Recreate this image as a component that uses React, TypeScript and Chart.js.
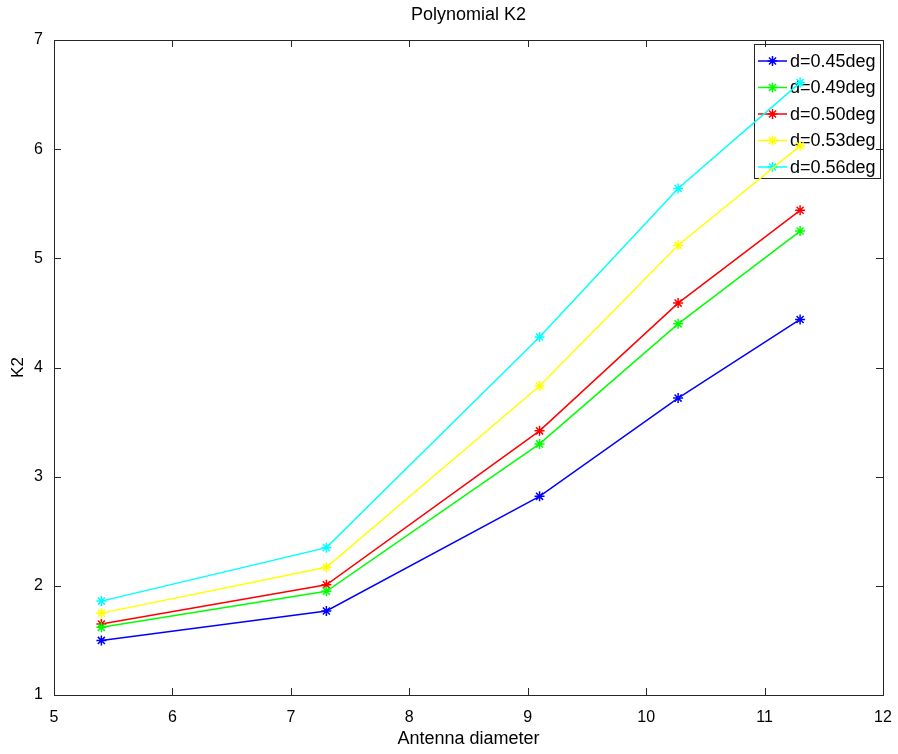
import React, { useEffect, useRef } from "react";
import { Chart, registerables } from "chart.js";

Chart.register(...registerables);

const chartTitle = "Polynomial K2";
const xValues = [5.4, 7.3, 9.1, 10.27, 11.3];
const seriesLabels = ["d=0.45deg", "d=0.49deg", "d=0.50deg", "d=0.53deg", "d=0.56deg"];
const seriesColors = ["#0000ff", "#00ff00", "#ff0000", "#ffff00", "#00ffff"];
const blueValues = [1.5, 1.77, 2.82, 3.72, 4.44];
const greenValues = [1.62, 1.95, 3.3, 4.4, 5.25];
const redValues = [1.65, 2.01, 3.42, 4.59, 5.44];
const yellowValues = [1.75, 2.17, 3.83, 5.12, 6.03];
const cyanValues = [1.86, 2.35, 4.28, 5.64, 6.61];
const seriesValues = [blueValues, greenValues, redValues, yellowValues, cyanValues];

const FONT = "'Liberation Sans', Arial, Helvetica, sans-serif";
const AXIS_COLOR = "#262626";

function drawStar(ctx: CanvasRenderingContext2D, x: number, y: number, r: number) {
  ctx.beginPath();
  ctx.moveTo(x - r, y);
  ctx.lineTo(x + r, y);
  ctx.moveTo(x, y - r);
  ctx.lineTo(x, y + r);
  const d = r * Math.SQRT1_2;
  ctx.moveTo(x - d, y - d);
  ctx.lineTo(x + d, y + d);
  ctx.moveTo(x - d, y + d);
  ctx.lineTo(x + d, y - d);
  ctx.stroke();
}

const boxPlugin = {
  id: "octaveBox",
  beforeDatasetsDraw(chart: any) {
    const { ctx, chartArea, scales } = chart;
    const { left, right, top, bottom } = chartArea;
    ctx.save();
    // title centred over the plot box
    ctx.fillStyle = "#000000";
    ctx.font = `18px ${FONT}`;
    ctx.textAlign = "center";
    ctx.textBaseline = "middle";
    ctx.fillText(chartTitle, (left + right) / 2, 15);

    ctx.strokeStyle = AXIS_COLOR;
    ctx.lineWidth = 1;
    ctx.strokeRect(Math.round(left) + 0.5, Math.round(top) + 0.5, Math.round(right - left), Math.round(bottom - top));
    const tl = 7;
    ctx.beginPath();
    scales.x.ticks.forEach((t: any) => {
      const px = Math.round(scales.x.getPixelForValue(t.value)) + 0.5;
      ctx.moveTo(px, bottom);
      ctx.lineTo(px, bottom - tl);
      ctx.moveTo(px, top);
      ctx.lineTo(px, top + tl);
    });
    scales.y.ticks.forEach((t: any) => {
      const py = Math.round(scales.y.getPixelForValue(t.value)) + 0.5;
      ctx.moveTo(left, py);
      ctx.lineTo(left + tl, py);
      ctx.moveTo(right, py);
      ctx.lineTo(right - tl, py);
    });
    ctx.stroke();

    // legend
    const lw = 126;
    const lh = 134;
    const lx = Math.round(right) - 3 - lw;
    const ly = Math.round(top) + 4;
    ctx.strokeRect(lx + 0.5, ly + 0.5, lw, lh);
    ctx.font = `18px ${FONT}`;
    ctx.textBaseline = "middle";
    ctx.textAlign = "left";
    seriesLabels.forEach((label, i) => {
      const cy = ly + 17 + i * 26.5;
      ctx.strokeStyle = seriesColors[i];
      ctx.lineWidth = 1.5;
      ctx.beginPath();
      ctx.moveTo(lx + 4, cy);
      ctx.lineTo(lx + 33, cy);
      ctx.stroke();
      drawStar(ctx, lx + 18.5, cy, 5);
      ctx.fillStyle = "#000000";
      ctx.fillText(label, lx + 36, cy + 1);
    });
    ctx.restore();
  },
};

export default function App() {
  const canvasRef = useRef<HTMLCanvasElement | null>(null);

  useEffect(() => {
    document.body.style.margin = "0";
    const canvas = canvasRef.current;
    if (!canvas) return;
    const datasets = seriesValues.map((vals, i) => ({
      label: seriesLabels[i],
      data: vals.map((v, j) => ({ x: xValues[j], y: v })),
      borderColor: seriesColors[i],
      backgroundColor: seriesColors[i],
      borderWidth: 1.5,
      pointStyle: "star" as const,
      pointRadius: 5,
      pointBorderWidth: 1.5,
      pointBorderColor: seriesColors[i],
      tension: 0,
      fill: false,
    }));
    const chart = new Chart(canvas, {
      type: "line",
      data: { datasets },
      plugins: [boxPlugin],
      options: {
        responsive: false,
        animation: false,
        layout: { padding: { top: 40, right: 15, bottom: 0, left: 0 } },
        plugins: {
          legend: { display: false },
          tooltip: { enabled: false },
          title: { display: false },
        },
        scales: {
          x: {
            type: "linear",
            min: 5,
            max: 12,
            grid: { display: false, drawTicks: false },
            border: { display: false },
            ticks: {
              stepSize: 1,
              color: "#000000",
              font: { family: FONT, size: 16 },
              padding: 13,
              maxRotation: 0,
            },
            title: {
              display: true,
              text: "Antenna diameter",
              color: "#000000",
              font: { family: FONT, size: 18 },
              padding: { top: 0, bottom: 4 },
            },
            afterFit: (scale: any) => {
              scale.height = 59;
              scale.paddingLeft = 0;
              scale.paddingRight = 0;
            },
          },
          y: {
            type: "linear",
            min: 1,
            max: 7,
            grid: { display: false, drawTicks: false },
            border: { display: false },
            ticks: {
              stepSize: 1,
              color: "#000000",
              font: { family: FONT, size: 16 },
              padding: 11,
            },
            title: {
              display: true,
              text: "K2",
              color: "#000000",
              font: { family: FONT, size: 17 },
              padding: { top: 8, bottom: 0 },
            },
            afterFit: (scale: any) => {
              scale.width = 54;
              scale.paddingTop = 0;
              scale.paddingBottom = 0;
            },
          },
        },
      },
    });
    return () => chart.destroy();
  }, []);

  return (
    <div style={{ width: 898, height: 754 }}>
      <canvas ref={canvasRef} width={898} height={754} />
    </div>
  );
}
